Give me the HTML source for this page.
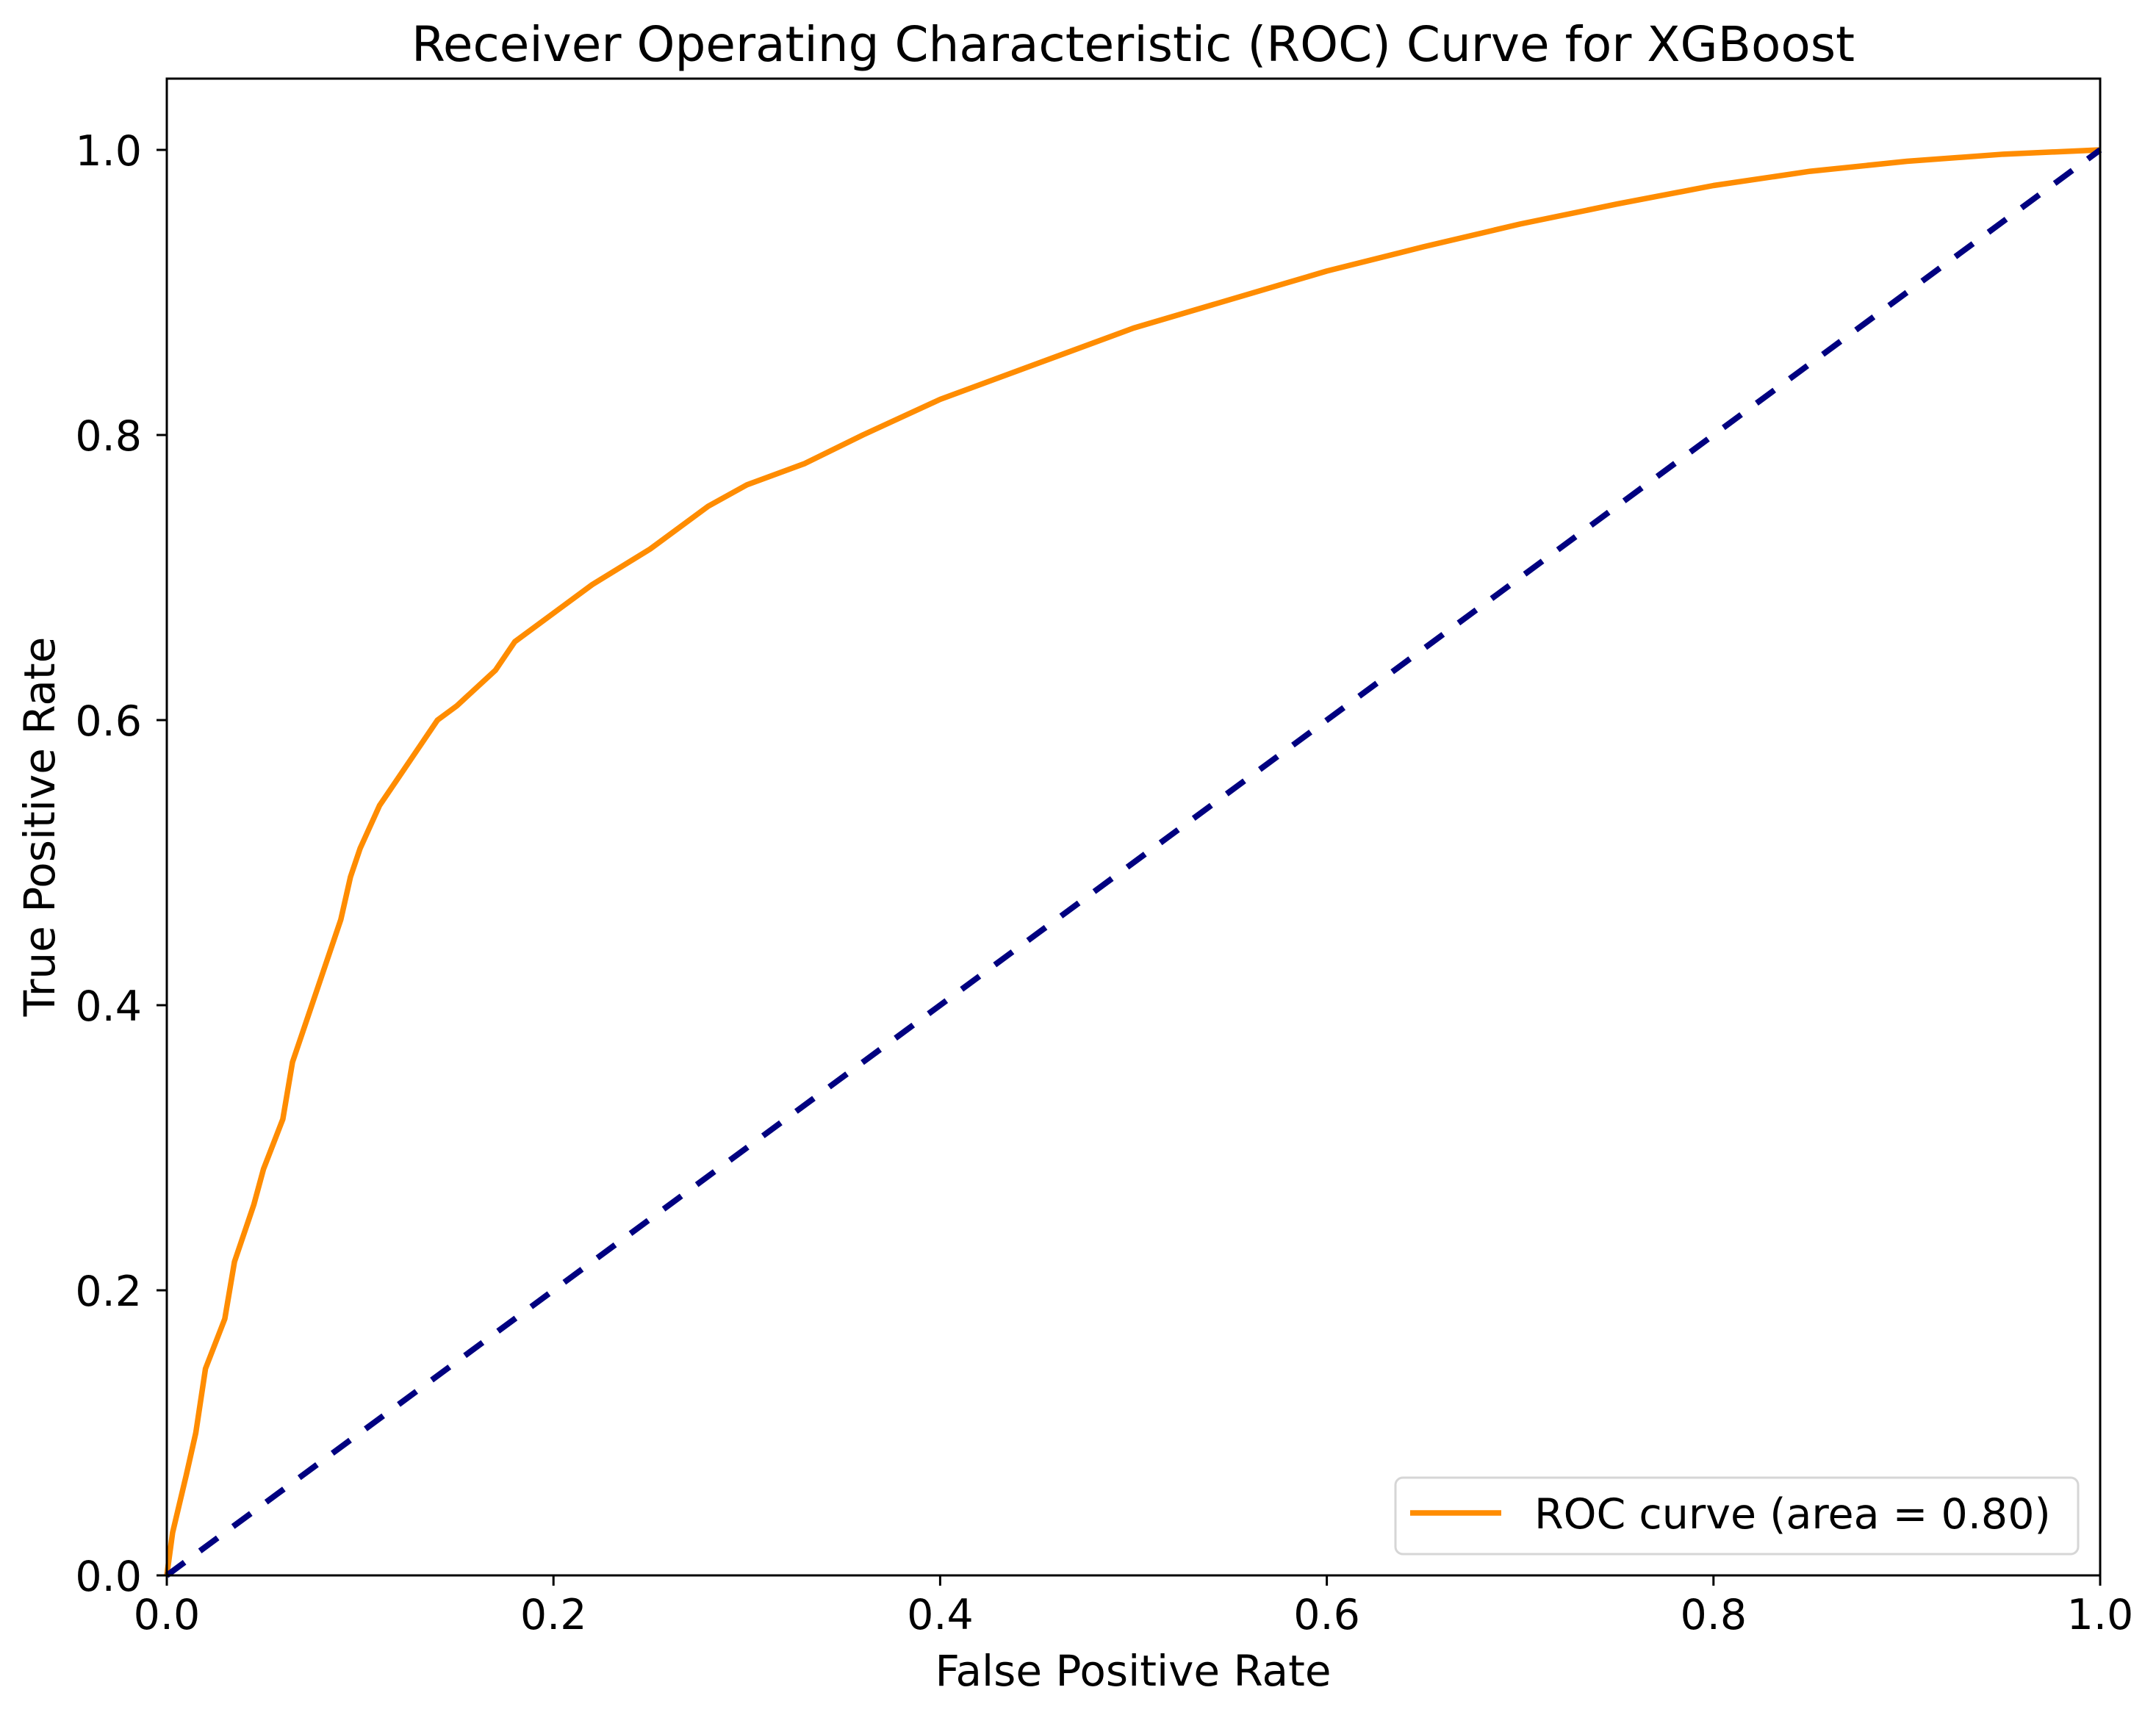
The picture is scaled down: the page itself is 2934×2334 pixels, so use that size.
<!DOCTYPE html>
<html><head><meta charset="utf-8"><style>
html,body{margin:0;padding:0;background:#fff;}
svg{display:block;font-family:"DejaVu Sans","Liberation Sans",sans-serif;}
</style></head><body>
<svg id="chart" width="2934" height="2334" viewBox="0 0 2934 2334" xmlns="http://www.w3.org/2000/svg">
<rect width="2934" height="2334" fill="#fff"/>
<text x="1542" y="83" font-size="66" text-anchor="middle">Receiver Operating Characteristic (ROC) Curve for XGBoost</text>
<g id="curves"></g>
<rect x="227" y="107" width="2631" height="2037" fill="none" stroke="#000" stroke-width="3"/>
<g id="ticks"></g>
<text x="1542" y="2294" font-size="58" text-anchor="middle">False Positive Rate</text>
<text transform="translate(74,1125) rotate(-90)" font-size="58" text-anchor="middle">True Positive Rate</text>
<g>
<rect x="1899" y="2011" width="929" height="104" rx="10" fill="#fff" fill-opacity="0.8" stroke="#d6d6d6" stroke-width="3"/>
<line x1="1919" y1="2059" x2="2043" y2="2059" stroke="#ff8c00" stroke-width="7.5"/>
<text x="2088" y="2080" font-size="57">ROC curve (area = 0.80)</text>
</g>
</svg>
<script>
const fpr = [0,0.003,0.01,0.015,0.02,0.03,0.035,0.045,0.05,0.06,0.065,0.07,0.08,0.09,0.095,0.1,0.11,0.12,0.13,0.14,0.15,0.17,0.18,0.2,0.22,0.25,0.28,0.3,0.33,0.36,0.4,0.43,0.46,0.5,0.55,0.6,0.65,0.7,0.75,0.8,0.85,0.9,0.95,1];
const tpr = [0,0.03,0.07,0.1,0.145,0.18,0.22,0.26,0.285,0.32,0.36,0.38,0.42,0.46,0.49,0.51,0.54,0.56,0.58,0.6,0.61,0.635,0.655,0.675,0.695,0.72,0.75,0.765,0.78,0.8,0.825,0.84,0.855,0.875,0.895,0.915,0.932,0.948,0.962,0.975,0.985,0.992,0.997,1];
const diagX = [0,1];
const diagY = [0,1];
const xTicks = [0,0.2,0.4,0.6,0.8,1.0];
const yTicks = [0,0.2,0.4,0.6,0.8,1.0];
const xTickLabels = ["0.0","0.2","0.4","0.6","0.8","1.0"];
const yTickLabels = ["0.0","0.2","0.4","0.6","0.8","1.0"];

const NS="http://www.w3.org/2000/svg";
const X0=227,X1=2858,Y0=2144,YPER=1940;
function sx(v){return X0+v*(X1-X0);}
function sy(v){return Y0-v*YPER;}
const curves=document.getElementById('curves');
const diag=document.createElementNS(NS,'polyline');


diag.setAttribute('points',diagX.map((x,i)=>sx(x)+','+sy(diagY[i])).join(' '));
diag.setAttribute('fill','none');diag.setAttribute('stroke','#000080');
diag.setAttribute('stroke-width','8');diag.setAttribute('stroke-dasharray','30 26');
const roc=document.createElementNS(NS,'polyline');


roc.setAttribute('points',fpr.map((x,i)=>sx(x)+','+sy(tpr[i])).join(' '));
roc.setAttribute('fill','none');roc.setAttribute('stroke','#ff8c00');
roc.setAttribute('stroke-width','7.5');roc.setAttribute('stroke-linejoin','round');
curves.appendChild(roc);
curves.appendChild(diag);
const tg=document.getElementById('ticks');
xTicks.forEach((v,i)=>{
  const l=document.createElementNS(NS,'line');
  
  
  l.setAttribute('x1',sx(v));l.setAttribute('x2',sx(v));l.setAttribute('y1',Y0);l.setAttribute('y2',Y0+14);
  l.setAttribute('stroke','#000');l.setAttribute('stroke-width','3');tg.appendChild(l);
  const t=document.createElementNS(NS,'text');
  
  
  t.setAttribute('x',sx(v));t.setAttribute('y',2217);t.setAttribute('font-size','57');t.setAttribute('text-anchor','middle');
  t.textContent=xTickLabels[i];tg.appendChild(t);
});
yTicks.forEach((v,i)=>{
  const l=document.createElementNS(NS,'line');
  
  
  l.setAttribute('x1',X0-14);l.setAttribute('x2',X0);l.setAttribute('y1',sy(v));l.setAttribute('y2',sy(v));
  l.setAttribute('stroke','#000');l.setAttribute('stroke-width','3');tg.appendChild(l);
  const t=document.createElementNS(NS,'text');
  
  
  t.setAttribute('x',193);t.setAttribute('y',sy(v)+21);t.setAttribute('font-size','57');t.setAttribute('text-anchor','end');
  t.textContent=yTickLabels[i];tg.appendChild(t);
});
</script>
</body></html>
